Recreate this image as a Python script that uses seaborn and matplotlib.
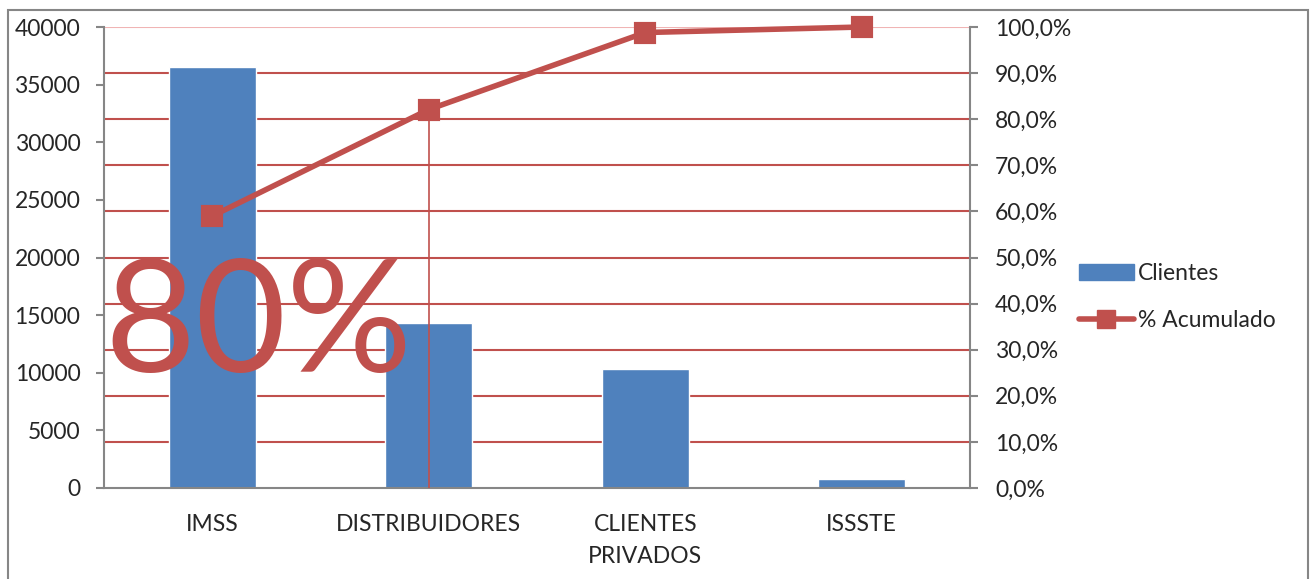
import matplotlib
matplotlib.use("Agg")
import matplotlib.pyplot as plt
import seaborn as sns
import pandas as pd
from matplotlib.patches import Patch, Rectangle
from matplotlib.lines import Line2D
from matplotlib.ticker import FuncFormatter

categories = ["IMSS", "DISTRIBUIDORES", "CLIENTES\nPRIVADOS", "ISSSTE"]
clientes = [36500, 14300, 10300, 750]
acumulado = [0.590, 0.821, 0.988, 1.000]
left_ticks = [0, 5000, 10000, 15000, 20000, 25000, 30000, 35000, 40000]
right_ticks = [0.0, 0.1, 0.2, 0.3, 0.4, 0.5, 0.6, 0.7, 0.8, 0.9, 1.0]

sns.set_theme(style="white")
plt.rcParams["font.family"] = ["Lato", "DejaVu Sans"]

BLUE = "#4F81BD"
RED = "#C0504D"
GRAY = "#868686"
FS = 16.5

df = pd.DataFrame({"cat": categories, "clientes": clientes, "acum": acumulado})

fig = plt.figure(figsize=(13.13, 5.79), dpi=100)
ax = fig.add_axes([104/1313, 91/579, 866/1313, 461/579])
ax2 = ax.twinx()

ax.set_zorder(2)
ax.patch.set_visible(False)
ax2.set_zorder(1)

sns.barplot(data=df, x="cat", y="clientes", color=BLUE, width=0.4, ax=ax,
            saturation=1)
ax.set_ylim(0, 40000)
ax.set_yticks(left_ticks)
ax.set_xlim(-0.5, 3.5)

ax2.set_ylim(0, 1.0)
ax2.set_yticks(right_ticks)
ax2.yaxis.set_major_formatter(FuncFormatter(lambda v, p: f"{v*100:.1f}%".replace(".", ",")))
for v in right_ticks[1:]:
    c = "#F0B4B4" if v == 1.0 else RED
    ax2.axhline(v, color=c, lw=1.5, zorder=0)

ax3 = ax.twinx()
ax3.set_zorder(3)
ax3.patch.set_visible(False)
ax3.vlines(1, 0, acumulado[1], color=RED, lw=1.2)
sns.pointplot(data=df, x="cat", y="acum", color=RED, markers="s",
              markersize=13, linewidth=4, ax=ax3)
ax3.set_ylim(0, 1.0)
ax3.set_xlim(-0.5, 3.5)
ax3.axis("off")
for art in list(ax3.lines) + list(ax3.collections):
    art.set_clip_on(False)

ax.text(-0.5, 10050, "80%", fontsize=113, color=RED, ha="left", va="baseline",
        zorder=5)

ax.set_xticks([-0.5, 0.5, 1.5, 2.5, 3.5])
ax.set_xticklabels([])
ax.set_xticks([0, 1, 2, 3], minor=True)
ax.set_xticklabels(categories, minor=True, fontsize=FS, linespacing=1.65)
ax.tick_params(axis="x", which="minor", length=0, pad=19)
ax.tick_params(axis="x", which="major", length=6, width=1.5, color=GRAY, direction="out")
ax.tick_params(axis="y", length=6, width=1.5, color=GRAY, direction="out",
               labelsize=FS, pad=11)
ax2.tick_params(axis="y", length=6, width=1.5, color=GRAY, direction="out",
                labelsize=FS, pad=12)
ax.set_xlabel("")
ax.set_ylabel("")
ax2.set_ylabel("")

for a in (ax, ax2):
    for s in a.spines.values():
        s.set_visible(False)
ax.spines["left"].set_visible(True)
ax.spines["bottom"].set_visible(True)
ax2.spines["right"].set_visible(True)
for s in (ax.spines["left"], ax.spines["bottom"], ax2.spines["right"]):
    s.set_color(GRAY)
    s.set_linewidth(1.5)

handles = [Patch(facecolor=BLUE, edgecolor=BLUE),
           Line2D([0], [0], color=RED, lw=4, marker="s", markersize=13)]
fig.legend(handles, ["Clientes", "% Acumulado"], loc="center left",
           bbox_to_anchor=(1058/1313, 1 - 297/579), frameon=False,
           fontsize=FS, handlelength=2.4, handletextpad=0.2, labelspacing=1.15)

fig.add_artist(Rectangle((8/1313, -0.05), 1300/1313, 1.05 - 10/579,
                         transform=fig.transFigure, fill=False,
                         edgecolor=GRAY, lw=1.5))

fig.savefig("out.png", dpi=100)
